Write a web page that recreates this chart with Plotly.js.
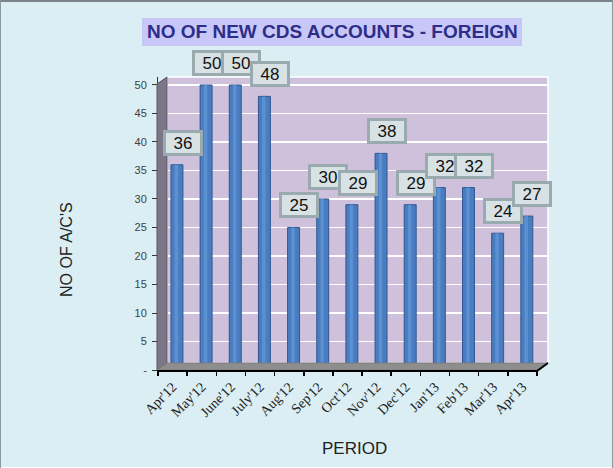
<!DOCTYPE html>
<html>
<head>
<meta charset="utf-8">
<script src="https://cdn.plot.ly/plotly-3.0.1.min.js"></script>
<style>
  html, body { margin: 0; padding: 0; background: #ffffff; }
  #chart { width: 611px; height: 466px; border: 1px solid #8c9aa0; border-top: 2px solid #7a8388; }
</style>
</head>
<body>
<div id="chart"></div>
<script>
// ---- data ----
const categories = ["Apr'12", "May'12", "June'12", "July'12", "Aug'12", "Sep'12", "Oct'12",
                    "Nov'12", "Dec'12", "Jan'13", "Feb'13", "Mar'13", "Apr'13"];
const accounts = [36, 50, 50, 48, 25, 30, 29, 38, 29, 32, 32, 24, 27];
const yTickVals = [0, 5, 10, 15, 20, 25, 30, 35, 40, 45, 50];
const yTickText = ['-', '5', '10', '15', '20', '25', '30', '35', '40', '45', '50'];
const chartTitle = 'NO OF NEW CDS ACCOUNTS - FOREIGN';
const xTitle = 'PERIOD';
const yTitle = "NO OF A/C'S";

// ---- layout geometry (plot area in page pixels) ----
const W = 611, H = 465;
const L = 157, T = 75, R = 64, B = 97;
const plotW = W - L - R, plotH = H - T - B;
const px = x => (x - 1 - L) / plotW;          // page px -> paper x
const py = y => (H - B - (y - 2)) / plotH;    // page py -> paper y

const sans = 'Liberation Sans, Arial, sans-serif';
const serif = 'Liberation Serif, Times New Roman, serif';

const bars = {
  type: 'bar',
  x: categories,
  y: accounts,
  width: 0.41,
  offset: -0.055,
  marker: { color: '#4a7dbf', line: { color: '#30578f', width: 1 } },
  hoverinfo: 'x+y',
  showlegend: false
};
const shine = {
  type: 'bar',
  x: categories,
  y: accounts,
  width: 0.12,
  offset: 0.07,
  marker: { color: '#5b90d2', line: { width: 0 } },
  hoverinfo: 'skip',
  showlegend: false
};

const labelAnnotations = categories.map((c, i) => ({
  x: c, y: accounts[i], xref: 'x', yref: 'y',
  xanchor: 'center', yanchor: 'middle',
  text: String(accounts[i]),
  showarrow: false,
  xshift: 10, yshift: 22,
  width: 34, height: 20,
  bgcolor: '#d8e2e5',
  bordercolor: '#9aabb0',
  borderwidth: 3,
  borderpad: 0,
  font: { family: sans, size: 17, color: '#111111' }
}));

const layout = {
  width: W, height: H,
  margin: { l: L, r: R, t: T, b: B },
  paper_bgcolor: '#dbeef4',
  plot_bgcolor: 'rgba(0,0,0,0)',
  barmode: 'overlay',
  xaxis: {
    type: 'category',
    range: [-0.5, 12.877],
    tickson: 'boundaries',
    ticks: 'outside', ticklen: 5, tickcolor: '#000000', tickwidth: 1.5,
    tickangle: -45,
    ticklabelstandoff: 5,
    tickfont: { family: serif, size: 14, color: '#222222' },
    showgrid: false, showline: false, zeroline: false,
    fixedrange: true
  },
  yaxis: {
    range: [0, 51.4],
    tickvals: yTickVals, ticktext: yTickText,
    ticks: 'outside', ticklen: 5, tickcolor: '#333333',
    ticklabelstandoff: 3,
    tickfont: { family: sans, size: 11, color: '#404040' },
    showgrid: true, gridcolor: '#ffffff', gridwidth: 1.5,
    showline: true, linecolor: '#333333', linewidth: 1,
    zeroline: false, fixedrange: true
  },
  shapes: [
    // back wall
    { type: 'rect', xref: 'paper', yref: 'paper', layer: 'below',
      x0: px(167), x1: px(548), y0: py(363), y1: py(77),
      fillcolor: '#cfc0dc', line: { color: '#ffffff', width: 1.5 } },
    // side wall
    { type: 'path', xref: 'paper', yref: 'paper', layer: 'above',
      path: `M ${px(157)} ${py(370)} L ${px(157)} ${py(84)} L ${px(167)} ${py(77)} L ${px(167)} ${py(363)} Z`,
      fillcolor: '#7d7688', line: { color: '#5a5563', width: 1 } },
    // floor
    { type: 'path', xref: 'paper', yref: 'paper', layer: 'above',
      path: `M ${px(157)} ${py(370)} L ${px(167)} ${py(363)} L ${px(548)} ${py(363)} L ${px(537)} ${py(370)} Z`,
      fillcolor: '#8e8e8e', line: { color: '#7a7a7a', width: 1 } },
    // x axis line
    { type: 'path', xref: 'paper', yref: 'paper', layer: 'above',
      path: `M ${px(157)} ${py(371)} L ${px(537)} ${py(371)} L ${px(548)} ${py(363)}`,
      line: { color: '#000000', width: 2 } },
    // title box
    { type: 'rect', xref: 'paper', yref: 'paper', layer: 'below',
      x0: px(142), x1: px(522), y0: py(46), y1: py(18),
      fillcolor: '#c8c8f8', line: { width: 0 } }
  ],
  annotations: [
    { xref: 'paper', yref: 'paper', x: px(332), y: py(32), xanchor: 'center', yanchor: 'middle',
      text: '<b>' + chartTitle + '</b>',
      showarrow: false, font: { family: sans, size: 19, color: '#2e2e8a' } },
    { xref: 'paper', yref: 'paper', x: px(354), y: py(448), xanchor: 'center', yanchor: 'middle',
      text: xTitle,
      showarrow: false, font: { family: sans, size: 17, color: '#222222' } },
    { xref: 'paper', yref: 'paper', x: px(66), y: py(250), xanchor: 'center', yanchor: 'middle',
      text: yTitle, textangle: -90,
      showarrow: false, font: { family: sans, size: 16, color: '#222222' } }
  ].concat(labelAnnotations)
};

Plotly.newPlot('chart', [bars, shine], layout, { displayModeBar: false, staticPlot: true });
</script>
</body>
</html>
